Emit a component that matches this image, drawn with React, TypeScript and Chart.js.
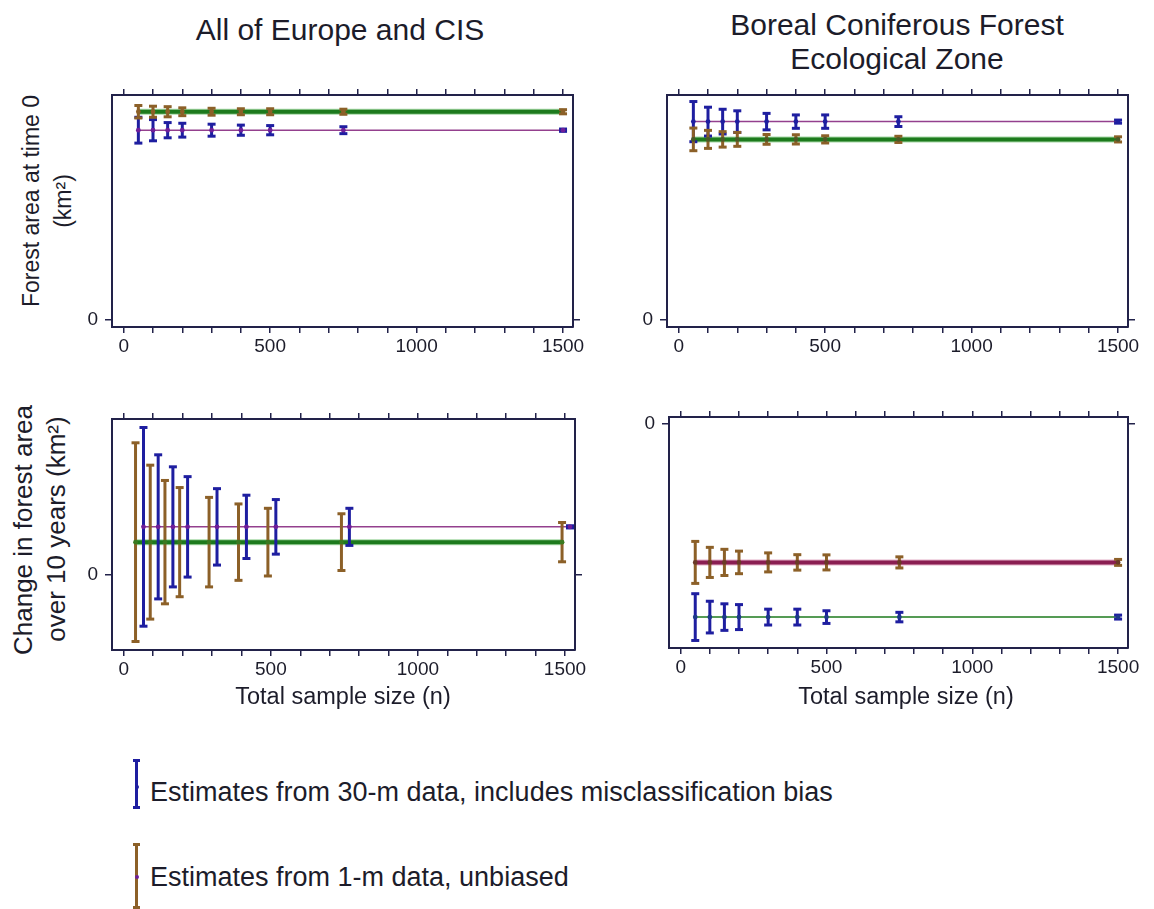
import React, { useEffect, useRef } from 'react';
import { Chart, registerables } from 'chart.js';

Chart.register(...registerables);

// ---------- data ----------
const SAMPLE_SIZES = [50, 100, 150, 200, 300, 400, 500, 750, 1500];
const X_TICKS = [0, 100, 200, 300, 400, 500, 600, 700, 800, 900, 1000, 1100, 1200, 1300, 1400, 1500];
const X_TICK_LABELS = [0, 500, 1000, 1500];
const Y_TICKS = [0];

// All of Europe and CIS – forest area at time 0 (relative units, only 0 is labelled)
const EU_AREA_30M_MEAN = [8.2, 8.2, 8.2, 8.2, 8.2, 8.2, 8.2, 8.2, 8.2];
const EU_AREA_30M_ERR = [0.56, 0.46, 0.33, 0.3, 0.26, 0.22, 0.2, 0.15, 0.05];
const EU_AREA_1M_MEAN = [9.0, 9.0, 9.0, 9.0, 9.0, 9.0, 9.0, 9.0, 9.0];
const EU_AREA_1M_ERR = [0.27, 0.24, 0.22, 0.17, 0.15, 0.13, 0.13, 0.11, 0.09];

// Boreal coniferous forest – forest area at time 0
const BOR_AREA_30M_MEAN = [7.69, 7.69, 7.69, 7.69, 7.69, 7.69, 7.69, 7.69, 7.69];
const BOR_AREA_30M_ERR = [0.78, 0.56, 0.48, 0.42, 0.32, 0.26, 0.26, 0.19, 0.06];
const BOR_AREA_1M_MEAN = [7.0, 7.0, 7.0, 7.0, 7.0, 7.0, 7.0, 7.0, 7.0];
const BOR_AREA_1M_ERR = [0.44, 0.35, 0.3, 0.27, 0.19, 0.18, 0.14, 0.12, 0.1];

// All of Europe and CIS – change in forest area over 10 years
const EU_CHG_30M_MEAN = [44, 44, 44, 44, 44, 44, 44, 44, 44];
const EU_CHG_30M_ERR = [91, 66, 55, 46, 35, 29, 25, 17, 1];
const EU_CHG_1M_MEAN = [30, 30, 30, 30, 30, 30, 30, 30, 30];
const EU_CHG_1M_ERR = [91, 70.5, 56.5, 50, 41, 35, 31, 26, 18];

// Boreal coniferous forest – change in forest area over 10 years
const BOR_CHG_30M_MEAN = [-97.6, -97.6, -97.6, -97.6, -97.6, -97.6, -97.6, -97.6, -97.6];
const BOR_CHG_30M_ERR = [11.8, 8.0, 6.7, 6.3, 4.0, 4.0, 3.2, 2.4, 1.0];
const BOR_CHG_1M_MEAN = [-70, -70, -70, -70, -70, -70, -70, -70, -70];
const BOR_CHG_1M_ERR = [10.6, 7.6, 6.6, 5.7, 4.8, 3.9, 3.8, 2.8, 1.5];

// ---------- styles ----------
const FONT = '"Liberation Sans", Arial, Helvetica, sans-serif';
const TEXT = '#1c1c2a';
const AXIS = '#22224a';
const BLUE = '#1e1ea0';
const BROWN = '#8c6028';
const PURPLE = '#94408e';
const PURPLE_DOT = '#6e1e9a';
const GREEN = '#1d7a1d';
const GREEN_HALO = '#a6d8a6';
const MAROON = '#8a1e52';
const MAROON_HALO = '#e4b0c8';
const TICK_FONT = 19;

const X_MIN = -40;
const X_MAX = 1534;

type LineStyle = { color: string; width: number; halo?: string };
type Spec = {
  key: string;
  area: { l: number; t: number; r: number; b: number };
  yMin: number;
  yMax: number;
  mean30: number[];
  err30: number[];
  mean1: number[];
  err1: number[];
  dodge30: number;
  dodge1: number;
  line30: LineStyle;
  line1: LineStyle;
  dot30: string;
  dot1: string;
};

const PANELS: Spec[] = [
  {
    key: 'tl',
    area: { l: 112, t: 95, r: 573, b: 327 },
    yMin: -0.334, yMax: 9.726,
    mean30: EU_AREA_30M_MEAN, err30: EU_AREA_30M_ERR,
    mean1: EU_AREA_1M_MEAN, err1: EU_AREA_1M_ERR,
    dodge30: 0, dodge1: 0,
    line30: { color: PURPLE, width: 1.5 },
    line1: { color: GREEN, width: 4, halo: GREEN_HALO },
    dot30: PURPLE_DOT, dot1: BROWN,
  },
  {
    key: 'tr',
    area: { l: 667, t: 95, r: 1128, b: 327 },
    yMin: -0.288, yMax: 8.724,
    mean30: BOR_AREA_30M_MEAN, err30: BOR_AREA_30M_ERR,
    mean1: BOR_AREA_1M_MEAN, err1: BOR_AREA_1M_ERR,
    dodge30: 0, dodge1: 0,
    line30: { color: PURPLE, width: 1.5 },
    line1: { color: GREEN, width: 4, halo: GREEN_HALO },
    dot30: BLUE, dot1: '#4a5a28',
  },
  {
    key: 'bl',
    area: { l: 112, t: 419, r: 575, b: 650 },
    yMin: -68.8, yMax: 142.8,
    mean30: EU_CHG_30M_MEAN, err30: EU_CHG_30M_ERR,
    mean1: EU_CHG_1M_MEAN, err1: EU_CHG_1M_ERR,
    dodge30: 17, dodge1: -10,
    line30: { color: PURPLE, width: 1.5 },
    line1: { color: GREEN, width: 4, halo: GREEN_HALO },
    dot30: PURPLE_DOT, dot1: '#3a7a20',
  },
  {
    key: 'br',
    area: { l: 669, t: 417, r: 1128, b: 648 },
    yMin: -113.2, yMax: 3.38,
    mean30: BOR_CHG_30M_MEAN, err30: BOR_CHG_30M_ERR,
    mean1: BOR_CHG_1M_MEAN, err1: BOR_CHG_1M_ERR,
    dodge30: 0, dodge1: 0,
    line30: { color: GREEN, width: 1.5 },
    line1: { color: MAROON, width: 4, halo: MAROON_HALO },
    dot30: '#1e3a8a', dot1: '#6a3a28',
  },
];

const PAD_L = 50;
const PAD_R = 15;
const PAD_T = 10;
const PAD_B = 38;

function lineDatasets(xs: number[], ys: number[], style: LineStyle, order: number) {
  const data = xs.map((x, i) => ({ x, y: ys[i] }));
  const out: any[] = [];
  if (style.halo) {
    out.push({
      data, showLine: true, borderColor: style.halo, borderWidth: style.width + 2,
      pointRadius: 0, order: order + 1,
    });
  }
  out.push({
    data, showLine: true, borderColor: style.color, borderWidth: style.width,
    pointRadius: 0, order,
  });
  return out;
}

function errorBarDatasets(xs: number[], means: number[], errs: number[], color: string, order: number) {
  return xs.map((x, i) => ({
    data: [
      { x, y: means[i] - errs[i] },
      { x, y: means[i] + errs[i] },
    ],
    showLine: true,
    borderColor: color,
    borderWidth: 3,
    pointStyle: 'line',
    pointRadius: 4,
    pointBorderWidth: 3,
    pointBorderColor: color,
    pointBackgroundColor: color,
    order,
  }));
}

function markerDataset(xs: number[], means: number[], color: string) {
  return {
    data: xs.map((x, i) => ({ x, y: means[i] })),
    showLine: false,
    pointStyle: 'circle',
    pointRadius: 2.4,
    pointBorderWidth: 0,
    pointBackgroundColor: color,
    order: 0,
  };
}

function buildDatasets(spec: Spec) {
  const x30 = SAMPLE_SIZES.map((n) => n + spec.dodge30);
  const x1 = SAMPLE_SIZES.map((n) => n + spec.dodge1);
  return [
    ...lineDatasets(x1, spec.mean1, spec.line1, 6),
    ...lineDatasets(x30, spec.mean30, spec.line30, 5),
    ...errorBarDatasets(x30, spec.mean30, spec.err30, BLUE, 4),
    ...errorBarDatasets(x1, spec.mean1, spec.err1, BROWN, 3),
    markerDataset(x30, spec.mean30, spec.dot30),
    markerDataset(x1, spec.mean1, spec.dot1),
  ];
}

function zeroPadding(s: any) {
  s.paddingTop = 0;
  s.paddingBottom = 0;
  s.paddingLeft = 0;
  s.paddingRight = 0;
}

function xAxis(position: 'top' | 'bottom') {
  return {
    type: 'linear',
    position,
    min: X_MIN,
    max: X_MAX,
    afterBuildTicks: (s: any) => {
      s.ticks = X_TICKS.map((v) => ({ value: v }));
    },
    afterFit: (s: any) => {
      s.height = position === 'bottom' ? PAD_B : PAD_T;
      zeroPadding(s);
    },
    grid: { display: true, drawOnChartArea: false, drawTicks: true, tickLength: 6, color: AXIS, lineWidth: 1.5 },
    border: { display: true, color: AXIS, width: 2 },
    ticks: {
      display: position === 'bottom',
      autoSkip: false,
      maxRotation: 0,
      padding: 2,
      color: TEXT,
      font: { family: FONT, size: TICK_FONT },
      callback: (v: any) => (X_TICK_LABELS.includes(Number(v)) ? String(v) : ''),
    },
  };
}

function yAxis(position: 'left' | 'right', spec: Spec) {
  return {
    type: 'linear',
    position,
    min: spec.yMin,
    max: spec.yMax,
    afterBuildTicks: (s: any) => {
      s.ticks = Y_TICKS.map((v) => ({ value: v }));
    },
    afterFit: (s: any) => {
      s.width = position === 'left' ? PAD_L : PAD_R;
      zeroPadding(s);
    },
    grid: { display: true, drawOnChartArea: false, drawTicks: true, tickLength: 7, color: AXIS, lineWidth: 1.5 },
    border: { display: true, color: AXIS, width: 2 },
    ticks: {
      display: position === 'left',
      padding: 7,
      color: TEXT,
      font: { family: FONT, size: TICK_FONT },
      callback: (v: any) => String(v),
    },
  };
}

function Panel({ spec }: { spec: Spec }) {
  const ref = useRef<HTMLCanvasElement>(null);
  const w = spec.area.r - spec.area.l + PAD_L + PAD_R;
  const h = spec.area.b - spec.area.t + PAD_T + PAD_B;
  useEffect(() => {
    if (!ref.current) return;
    const chart = new Chart(ref.current, {
      type: 'scatter',
      data: { datasets: buildDatasets(spec) as any },
      options: {
        responsive: false,
        animation: false,
        events: [],
        layout: { padding: 0 },
        plugins: { legend: { display: false }, tooltip: { enabled: false }, title: { display: false } },
        scales: {
          x: xAxis('bottom'),
          x2: xAxis('top'),
          y: yAxis('left', spec),
          y2: yAxis('right', spec),
        } as any,
      },
    });
    return () => chart.destroy();
  }, [spec]);
  return (
    <canvas
      ref={ref}
      width={w}
      height={h}
      style={{ position: 'absolute', left: spec.area.l - PAD_L, top: spec.area.t - PAD_T, width: w, height: h }}
    />
  );
}

const textBase: React.CSSProperties = {
  position: 'absolute',
  fontFamily: FONT,
  color: TEXT,
  whiteSpace: 'nowrap',
  lineHeight: 1,
};

function Centered({ x, y, size, children }: { x: number; y: number; size: number; children: React.ReactNode }) {
  return (
    <div style={{ ...textBase, left: x, top: y, fontSize: size, transform: 'translate(-50%, -50%)' }}>{children}</div>
  );
}

function Rotated({ x, y, size, children }: { x: number; y: number; size: number; children: React.ReactNode }) {
  return (
    <div style={{ ...textBase, left: x, top: y, fontSize: size, transform: 'translate(-50%, -50%) rotate(-90deg)' }}>
      {children}
    </div>
  );
}

function LegendIcon({ x, top, bottom, color, dotY, dotColor }: { x: number; top: number; bottom: number; color: string; dotY: number; dotColor: string }) {
  return (
    <>
      <div style={{ position: 'absolute', left: x - 1.5, top, width: 3, height: bottom - top, background: color }} />
      <div style={{ position: 'absolute', left: x - 3.5, top, width: 7, height: 3, background: color }} />
      <div style={{ position: 'absolute', left: x - 3.5, top: bottom - 3, width: 7, height: 3, background: color }} />
      <div style={{ position: 'absolute', left: x - 1, top: dotY - 2, width: 4, height: 4, borderRadius: 2, background: dotColor }} />
    </>
  );
}

export default function App() {
  return (
    <div style={{ position: 'absolute', left: 0, top: 0, width: 1154, height: 909, background: '#ffffff', overflow: 'hidden' }}>
      <Centered x={340} y={30} size={30}>All of Europe and CIS</Centered>
      <Centered x={897} y={25} size={30}>Boreal Coniferous Forest</Centered>
      <Centered x={897} y={59} size={30}>Ecological Zone</Centered>

      <Rotated x={31} y={201} size={23}>Forest area at time 0</Rotated>
      <Rotated x={63} y={201} size={23}>(km²)</Rotated>
      <Rotated x={23} y={530} size={26}>Change in forest area</Rotated>
      <Rotated x={56} y={529} size={26}>over 10 years (km²)</Rotated>

      {PANELS.map((p) => (
        <Panel key={p.key} spec={p} />
      ))}

      <Centered x={343} y={697} size={23.5}>Total sample size (n)</Centered>
      <Centered x={906} y={697} size={23.5}>Total sample size (n)</Centered>

      <LegendIcon x={136} top={759} bottom={809} color={BLUE} dotY={787} dotColor={BLUE} />
      <div style={{ ...textBase, left: 150, top: 792, fontSize: 27, transform: 'translateY(-50%)' }}>
        Estimates from 30-m data, includes misclassification bias
      </div>
      <LegendIcon x={136} top={843} bottom={909} color={BROWN} dotY={877} dotColor={PURPLE_DOT} />
      <div style={{ ...textBase, left: 150, top: 877, fontSize: 27, transform: 'translateY(-50%)' }}>
        Estimates from 1-m data, unbiased
      </div>
    </div>
  );
}
